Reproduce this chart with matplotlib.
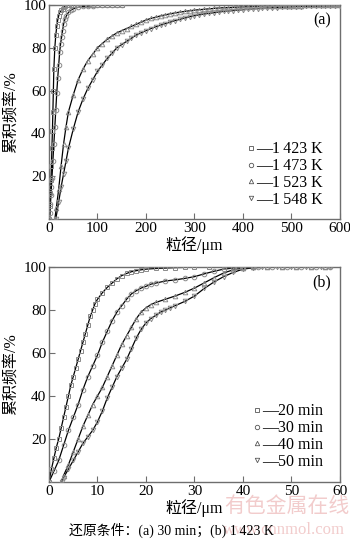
import matplotlib
matplotlib.use("Agg")
import matplotlib.pyplot as plt
from matplotlib.lines import Line2D

plt.rcParams['font.family'] = ['Liberation Serif', 'Noto Sans CJK SC']
plt.rcParams['mathtext.fontset'] = 'stix'

# (a) reduction temperature series, 30 min
a_labels = ["\u20141\u2009423 K", "\u20141\u2009473 K", "\u20141\u2009523 K", "\u20141\u2009548 K"]
a_markers = ["s", "o", "^", "v"]

x_1423 = [1, 2, 3, 4, 5, 6, 7, 8, 9, 10, 12, 14, 16, 18, 20, 22, 25, 28, 31, 34, 37, 40,
          45, 50, 60, 70, 80, 90, 100, 110, 120, 130, 140, 150]
y_1423 = [0, 6, 12, 18, 25, 33, 41, 50, 60, 70, 80, 86, 90, 93, 95, 96.5, 97.5, 98.3, 99, 99.5, 99.8, 100,
          100, 100, 100, 100, 100, 100, 100, 100, 100, 100, 100, 100]

x_1473 = [1, 2, 3, 4, 5, 6, 8, 10, 12, 14, 16, 18, 20, 22, 24, 26, 28, 30, 33, 36, 40, 45, 50,
          60, 70, 80, 90, 100, 110, 120, 130, 140, 150]
y_1473 = [0, 3, 7, 11, 15, 19, 27, 35, 43, 51, 59, 66, 72, 78, 82, 85, 88, 91, 93.5, 95, 96.5, 97.5, 98.2,
          98.9, 99.3, 99.5, 99.7, 99.8, 99.9, 99.9, 100, 100, 100]

x_1523 = [12, 15, 20, 25, 30, 35, 40, 50, 60, 70, 80, 90, 100, 110, 120, 130, 140, 150, 160, 170, 180,
          190, 200, 210, 220, 230, 240, 250, 260, 270, 280, 290, 300, 310, 320, 330, 340, 350, 360, 370,
          380, 390, 400, 410, 420, 430, 440, 450, 460, 470, 480, 490, 500, 510, 520, 530, 540, 550, 560,
          570, 580, 590, 600]
y_1523 = [0, 5, 14, 25, 35, 43, 50, 58, 65, 70, 74, 77, 80, 82, 84, 85.5, 87, 88, 89, 90, 91,
          92, 93, 93.7, 94.3, 94.9, 95.4, 95.9, 96.3, 96.7, 97, 97.3, 97.6, 97.8, 98, 98.2, 98.4, 98.6,
          98.7, 98.8, 98.9, 99, 99.1, 99.2, 99.3, 99.35, 99.4, 99.45, 99.5, 99.55, 99.6, 99.65, 99.7,
          99.73, 99.76, 99.8, 99.83, 99.86, 99.9, 99.92, 99.95, 99.97, 100]

x_1548 = [14, 20, 25, 30, 35, 40, 50, 60, 70, 80, 90, 100, 110, 120, 130, 140, 150, 160, 170, 180, 190,
          200, 210, 220, 230, 240, 250, 260, 270, 280, 290, 300, 310, 320, 330, 340, 350, 360, 370, 380,
          390, 400, 410, 420, 430, 440, 450, 460, 470, 480, 490, 500, 510, 520, 530, 540, 550, 560, 570,
          580, 590, 600]
y_1548 = [0, 8, 15, 21, 27, 33, 42, 50, 56, 61, 65, 69, 72, 75, 77.5, 80, 81.5, 83, 84.5, 86, 87,
          88, 89, 89.8, 90.6, 91.3, 92, 92.7, 93.3, 93.9, 94.5, 95, 95.4, 95.8, 96.1, 96.4, 96.7, 97,
          97.2, 97.4, 97.6, 97.8, 98, 98.2, 98.3, 98.5, 98.6, 98.7, 98.8, 98.9, 99, 99.1, 99.2, 99.25,
          99.3, 99.35, 99.4, 99.45, 99.5, 99.55, 99.6, 99.65]

# (b) reduction time series, 1 423 K
b_labels = ["\u201420 min", "\u201430 min", "\u201440 min", "\u201450 min"]
b_markers = ["s", "o", "^", "v"]

x_20 = [0, 0.5, 1, 1.5, 2, 2.5, 3, 3.5, 4, 4.5, 5, 5.5, 6, 6.5, 7, 7.5, 8, 8.5, 9, 9.5, 10, 11, 12, 13,
        14, 15, 16, 17, 18, 19, 20, 22, 24, 26, 28, 30, 33, 36, 39, 42, 45, 48, 51, 54, 57]
y_20 = [0, 6, 11, 16, 20, 25, 30, 35, 40, 45, 49, 53, 57, 61, 65, 69, 73, 77, 80, 83, 85, 88, 90.5, 92.5,
        94.5, 96, 97, 97.8, 98.3, 98.7, 99, 99.3, 99.5, 99.7, 99.8, 99.9, 100, 100, 100, 100, 100, 100, 100, 100, 100]

x_30 = [0, 1, 2, 3, 4, 5, 6, 7, 8, 9, 10, 11, 12, 13, 14, 15, 16, 17, 18, 19, 20, 21, 22, 24, 26, 28, 30,
        32, 34, 36, 38, 40, 43, 46, 49, 52, 55, 58]
y_30 = [0, 5, 10, 17, 24, 30, 36, 43, 49, 54, 59, 65, 70, 75, 79, 82, 85, 87.5, 89, 90.2, 91, 92, 92.5,
        93.5, 94, 94.7, 95.5, 96.8, 98, 99, 99.5, 99.8, 100, 100, 100, 100, 100, 100]

x_40 = [2.5, 3, 4, 5, 6, 7, 8, 9, 10, 11, 12, 13, 14, 15, 16, 17, 18, 19, 20, 21, 22, 24, 26, 28, 30,
        32, 34, 36, 38, 40, 42, 45, 48, 51, 54, 57]
y_40 = [0, 3, 8, 14, 20, 26, 31, 36, 40, 44, 49, 54, 59, 64, 68, 72, 76, 79, 81, 82.5, 83.5, 85, 86.5,
        88.2, 90.2, 92.6, 95, 97.2, 98.7, 99.4, 99.8, 100, 100, 100, 100, 100]

x_50 = [2.6, 3, 4, 5, 6, 7, 8, 9, 10, 11, 12, 13, 14, 15, 16, 17, 18, 19, 20, 21, 22, 23, 24, 25, 26,
        28, 30, 32, 34, 36, 38, 40, 42, 44, 47, 50, 53, 56, 58]
y_50 = [0, 2, 6, 10, 14, 18, 21, 24, 28, 33, 39, 44, 49, 53, 57, 62, 67, 71, 74, 76, 77.5, 79, 80, 81,
        82, 84, 86.5, 90, 93, 95.5, 97.5, 99, 99.6, 99.8, 100, 100, 100, 100, 100]

a_series = [(x_1423, y_1423), (x_1473, y_1473), (x_1523, y_1523), (x_1548, y_1548)]
b_series = [(x_20, y_20), (x_30, y_30), (x_40, y_40), (x_50, y_50)]

fig = plt.figure(figsize=(3.5, 5.42), dpi=100)
ax_a = fig.add_axes([0.14, 0.5959, 0.8314, 0.3949])
ax_b = fig.add_axes([0.14, 0.1107, 0.8314, 0.3967])

mcolor = "#8a8a8a"
spine_color = "#6e6e6e"


def draw_panel(ax, series, markers, labels, xmax, xstep, tag, leg_y):
    for (xs, ys), m in zip(series, markers):
        ax.plot(xs, ys, color="black", lw=0.9, zorder=2)
        ax.plot(xs, ys, linestyle="", marker=m, markersize=3.3, markerfacecolor="none",
                markeredgecolor=mcolor, markeredgewidth=0.7, zorder=3)
    ax.set_xlim(0, xmax)
    ax.set_ylim(0, 100)
    ax.set_xticks(range(0, xmax + 1, xstep))
    ax.set_yticks([20, 40, 60, 80, 100])
    ax.tick_params(direction="in", length=4, width=0.8, color=spine_color, labelsize=11, pad=2)
    for s in ax.spines.values():
        s.set_color(spine_color)
        s.set_linewidth(1.0)
    ax.set_xlabel("粒径/μm", fontsize=11.5, labelpad=1)
    ax.set_ylabel("累积频率/%", fontsize=11.5, labelpad=3)
    handles = [Line2D([], [], linestyle="", marker=m, markersize=3.2, markerfacecolor="none",
                      markeredgecolor="#555555", markeredgewidth=0.6) for m in markers]
    ax.legend(handles, labels, loc="lower right", bbox_to_anchor=(0.98, leg_y), frameon=False,
              fontsize=11.5, handlelength=0.4, handletextpad=0.1, labelspacing=0.05, borderpad=0.2)
    ax.text(0.97, 0.93, tag, transform=ax.transAxes, ha="right", va="center", fontsize=11.5)


draw_panel(ax_a, a_series, a_markers, a_labels, 600, 100, "(a)", 0.0)
draw_panel(ax_b, b_series, b_markers, b_labels, 60, 10, "(b)", 0.005)

fig.text(0.49, 0.022, "还原条件：(a) 30 min；(b) 1\u2009423 K", ha="center", va="center", fontsize=10)

# faint site watermark
fig.text(0.82, 0.064, "有色金属在线", ha="center", va="center", fontsize=15, color="#f2cccc", zorder=0)
fig.text(0.81, 0.022, "www.cnnmol.com", ha="center", va="center", fontsize=12, color="#f2cccc", zorder=0)

fig.savefig("out.png", dpi=100)
